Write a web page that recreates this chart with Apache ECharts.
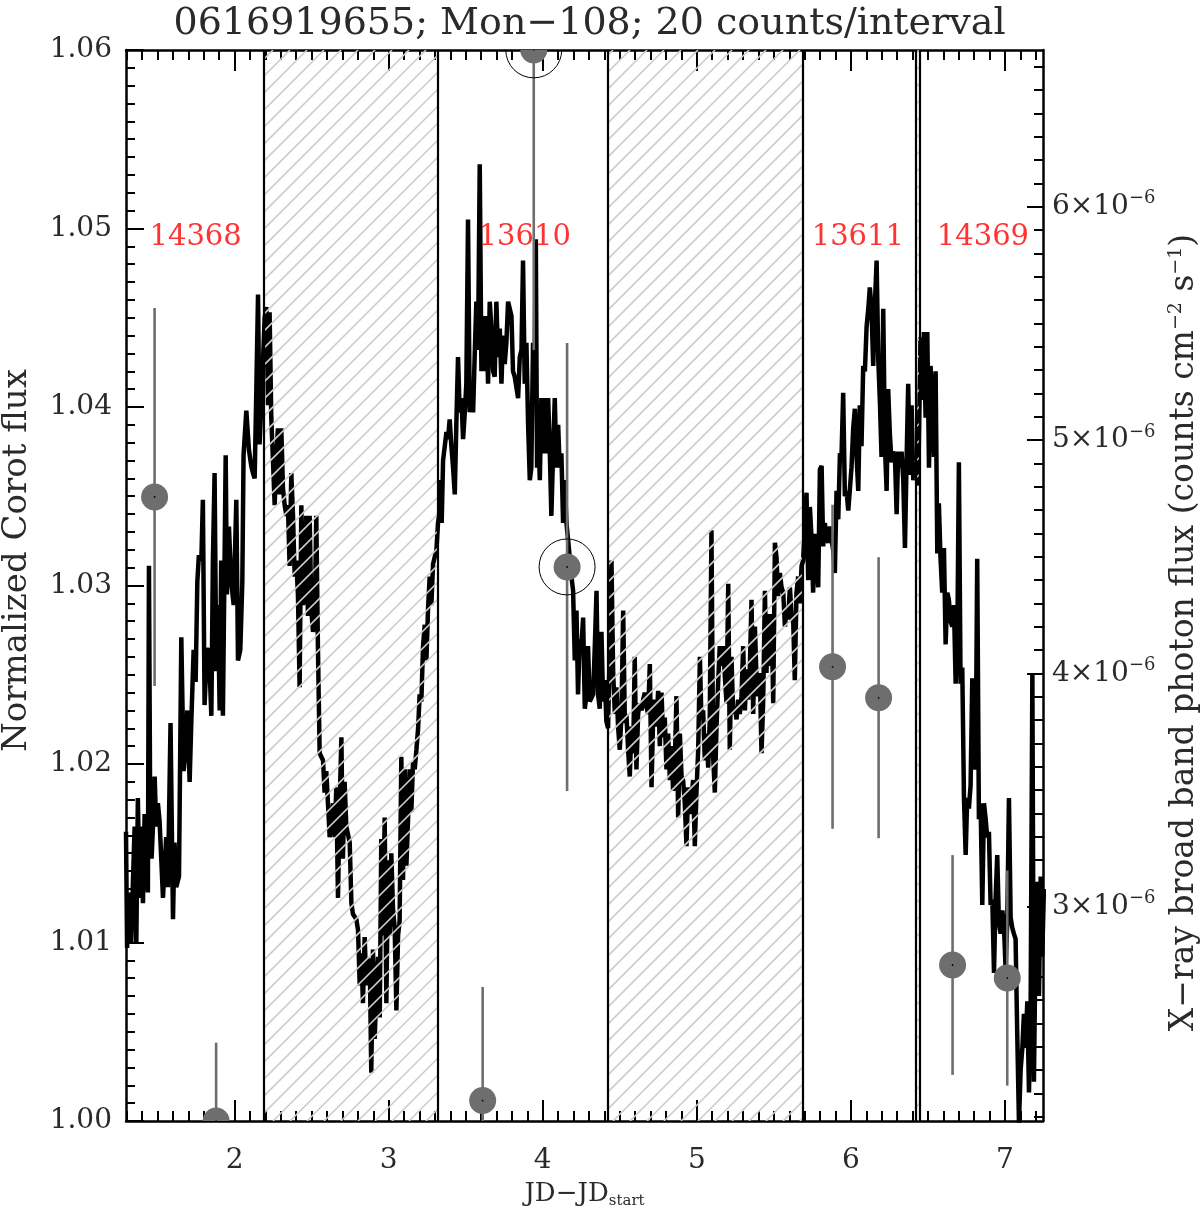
<!DOCTYPE html>
<html><head><meta charset="utf-8">
<script src="https://cdn.jsdelivr.net/npm/echarts@6/dist/echarts.min.js"></script>
<style>html,body{margin:0;padding:0;background:#fff}#c{width:1200px;height:1210px}</style>
</head><body><div id="c"></div><script>
// ---------------- data ----------------
const chartTitle = '0616919655; Mon\u2212108; 20 counts/interval';
const X_MIN = 1.295, X_MAX = 7.247;
const LEFT_MIN = 1.00, LEFT_MAX = 1.06, LEFT_STEP = 0.01;
const XRAY_MIN = 2.0814, XRAY_MAX = 6.6714;          // units of 1e-6
const xTickValues = [2, 3, 4, 5, 6, 7];
const xrayTickValues = [3, 4, 5, 6];

// CoRoT light curve [JD-JDstart, normalized flux], one array per stretch
const corotPart1 = [[1.295,1.0162],[1.302,1.0097],[1.314,1.0128],[1.329,1.0100],[1.340,1.0134],[1.351,1.0165],[1.362,1.0100],[1.372,1.0181],[1.383,1.0125],[1.394,1.0165],[1.405,1.0122],[1.416,1.0172],[1.426,1.0172],[1.437,1.0128],[1.444,1.0311],[1.452,1.0172],[1.461,1.0147],[1.470,1.0165],[1.481,1.0193],[1.491,1.0165],[1.502,1.0178],[1.513,1.0168],[1.535,1.0125],[1.556,1.0159],[1.567,1.0131],[1.584,1.0223],[1.600,1.0113],[1.610,1.0156],[1.621,1.0131],[1.639,1.0137],[1.654,1.0271],[1.669,1.0196],[1.682,1.0209],[1.693,1.0230],[1.708,1.0190],[1.719,1.0224],[1.734,1.0264],[1.747,1.0246],[1.758,1.0302],[1.768,1.0317],[1.784,1.0314],[1.794,1.0348],[1.805,1.0233],[1.820,1.0264],[1.833,1.0264],[1.849,1.0227],[1.859,1.0314],[1.870,1.0363],[1.881,1.0252],[1.892,1.0289],[1.903,1.0230],[1.913,1.0314],[1.924,1.0227],[1.942,1.0373],[1.950,1.0295],[1.963,1.0333],[1.978,1.0302],[1.994,1.0289],[2.011,1.0348],[2.022,1.0258],[2.037,1.0264],[2.050,1.0302],[2.058,1.0373],[2.076,1.0398],[2.093,1.0376],[2.108,1.0367],[2.119,1.0363],[2.130,1.0360],[2.141,1.0410],[2.152,1.0463],[2.162,1.0379],[2.173,1.0401],[2.184,1.0425]];
const corotPart2 = [[2.195,1.0450],[2.206,1.0456],[2.217,1.0401],[2.227,1.0453],[2.238,1.0394],[2.249,1.0370],[2.260,1.0345],[2.271,1.0373],[2.281,1.0388],[2.292,1.0351],[2.303,1.0388],[2.314,1.0354],[2.325,1.0345],[2.336,1.0339],[2.346,1.0345],[2.357,1.0311],[2.368,1.0363],[2.379,1.0339],[2.390,1.0305],[2.400,1.0314],[2.411,1.0295],[2.422,1.0243],[2.433,1.0345],[2.444,1.0289],[2.455,1.0302],[2.465,1.0339],[2.476,1.0283],[2.487,1.0339],[2.498,1.0286],[2.509,1.0274],[2.520,1.0283],[2.530,1.0339],[2.541,1.0264],[2.552,1.0206],[2.563,1.0206],[2.574,1.0202],[2.584,1.0184],[2.595,1.0196],[2.606,1.0178],[2.617,1.0159],[2.628,1.0168],[2.639,1.0178],[2.649,1.0159],[2.660,1.0187],[2.671,1.0125],[2.682,1.0178],[2.693,1.0215],[2.703,1.0147],[2.714,1.0190],[2.725,1.0165],[2.747,1.0156],[2.758,1.0122],[2.768,1.0116],[2.790,1.0113],[2.801,1.0107],[2.812,1.0076],[2.823,1.0094],[2.833,1.0066],[2.844,1.0103],[2.855,1.0076],[2.866,1.0088],[2.877,1.0091],[2.887,1.0027],[2.898,1.0096],[2.909,1.0046],[2.920,1.0073],[2.931,1.0092],[2.942,1.0058],[2.952,1.0158],[2.963,1.0104],[2.974,1.0170],[2.985,1.0066],[2.996,1.0146],[3.007,1.0104],[3.017,1.0150],[3.028,1.0119],[3.039,1.0108],[3.050,1.0062],[3.061,1.0104],[3.071,1.0112],[3.082,1.0204],[3.093,1.0135],[3.104,1.0197],[3.115,1.0143],[3.126,1.0170],[3.136,1.0197],[3.147,1.0173],[3.158,1.0201],[3.169,1.0197],[3.180,1.0208],[3.191,1.0220],[3.201,1.0239],[3.212,1.0235],[3.223,1.0266],[3.234,1.0278],[3.245,1.0258],[3.255,1.0286],[3.266,1.0305],[3.277,1.0289],[3.288,1.0312],[3.299,1.0316],[3.310,1.0320],[3.320,1.0335]];
const corotPart3 = [[3.327,1.0339],[3.336,1.0359],[3.344,1.0335],[3.353,1.0370],[3.364,1.0378],[3.375,1.0386],[3.385,1.0382],[3.396,1.0393],[3.407,1.0378],[3.418,1.0366],[3.429,1.0351],[3.439,1.0390],[3.450,1.0428],[3.461,1.0397],[3.472,1.0405],[3.483,1.0382],[3.494,1.0397],[3.504,1.0413],[3.515,1.0505],[3.526,1.0397],[3.537,1.0413],[3.548,1.0397],[3.558,1.0428],[3.569,1.0459],[3.580,1.0432],[3.591,1.0536],[3.602,1.0420],[3.613,1.0451],[3.623,1.0420],[3.634,1.0451],[3.645,1.0413],[3.656,1.0459],[3.667,1.0444],[3.678,1.0420],[3.688,1.0417],[3.699,1.0459],[3.710,1.0428],[3.721,1.0444],[3.732,1.0413],[3.742,1.0440],[3.753,1.0424],[3.764,1.0436],[3.775,1.0459],[3.786,1.0455],[3.797,1.0451],[3.807,1.0420],[3.818,1.0417],[3.829,1.0417],[3.840,1.0405],[3.851,1.0428],[3.862,1.0432],[3.872,1.0482],[3.883,1.0413],[3.894,1.0436],[3.905,1.0390],[3.916,1.0359],[3.926,1.0366],[3.937,1.0436],[3.948,1.0428],[3.955,1.0494],[3.963,1.0366],[3.970,1.0390],[3.981,1.0359],[3.991,1.0405],[4.002,1.0374],[4.013,1.0405],[4.024,1.0374],[4.035,1.0405],[4.046,1.0374],[4.056,1.0339],[4.067,1.0374],[4.078,1.0405],[4.089,1.0366],[4.100,1.0390],[4.110,1.0366],[4.121,1.0374],[4.132,1.0335],[4.143,1.0359],[4.154,1.0335],[4.165,1.0335],[4.175,1.0316],[4.186,1.0305],[4.197,1.0297],[4.208,1.0258],[4.219,1.0286],[4.229,1.0239],[4.240,1.0270],[4.251,1.0266],[4.262,1.0282],[4.273,1.0231],[4.284,1.0239],[4.294,1.0266],[4.305,1.0235],[4.316,1.0235],[4.327,1.0239],[4.338,1.0266],[4.349,1.0297],[4.359,1.0239],[4.370,1.0231],[4.381,1.0274],[4.392,1.0235],[4.403,1.0247],[4.413,1.0224],[4.424,1.0220]];
const corotPart4 = [[4.446,1.0314],[4.457,1.0251],[4.468,1.0228],[4.478,1.0243],[4.489,1.0221],[4.500,1.0208],[4.511,1.0228],[4.522,1.0286],[4.533,1.0223],[4.543,1.0228],[4.554,1.0208],[4.565,1.0193],[4.576,1.0221],[4.587,1.0206],[4.597,1.0260],[4.608,1.0197],[4.619,1.0228],[4.630,1.0234],[4.641,1.0230],[4.652,1.0236],[4.662,1.0240],[4.673,1.0232],[4.684,1.0228],[4.695,1.0256],[4.706,1.0187],[4.717,1.0228],[4.727,1.0236],[4.738,1.0221],[4.749,1.0241],[4.760,1.0210],[4.771,1.0240],[4.781,1.0215],[4.792,1.0226],[4.803,1.0197],[4.814,1.0217],[4.825,1.0191],[4.836,1.0210],[4.846,1.0185],[4.857,1.0200],[4.868,1.0238],[4.879,1.0170],[4.890,1.0217],[4.901,1.0193],[4.911,1.0191],[4.922,1.0178],[4.933,1.0154],[4.944,1.0187],[4.955,1.0172],[4.965,1.0180],[4.976,1.0191],[4.987,1.0154],[4.998,1.0185],[5.009,1.0208],[5.020,1.0260],[5.030,1.0225],[5.041,1.0230],[5.052,1.0202],[5.063,1.0217],[5.074,1.0198],[5.084,1.0225],[5.095,1.0331],[5.106,1.0204],[5.117,1.0184],[5.128,1.0221],[5.139,1.0247],[5.149,1.0266],[5.160,1.0255],[5.171,1.0266],[5.182,1.0249],[5.193,1.0234],[5.204,1.0301],[5.214,1.0208],[5.225,1.0260],[5.236,1.0228],[5.247,1.0232],[5.258,1.0225],[5.268,1.0236],[5.279,1.0228],[5.290,1.0238],[5.301,1.0266],[5.312,1.0230],[5.323,1.0253],[5.333,1.0236],[5.344,1.0253],[5.355,1.0292],[5.366,1.0228],[5.377,1.0277],[5.388,1.0247],[5.398,1.0238],[5.409,1.0251],[5.420,1.0206],[5.431,1.0236],[5.442,1.0297],[5.452,1.0251],[5.463,1.0284],[5.474,1.0255],[5.485,1.0284],[5.496,1.0234],[5.507,1.0324],[5.517,1.0316],[5.528,1.0294],[5.539,1.0307],[5.550,1.0299],[5.561,1.0296],[5.572,1.0277],[5.582,1.0286],[5.593,1.0281],[5.604,1.0299],[5.615,1.0284],[5.626,1.0279],[5.636,1.0247],[5.647,1.0296],[5.658,1.0305],[5.669,1.0290],[5.680,1.0311],[5.690,1.0314]];
const corotPart5 = [[5.701,1.0314],[5.712,1.0352],[5.723,1.0303],[5.734,1.0344],[5.745,1.0326],[5.755,1.0296],[5.766,1.0329],[5.777,1.0329],[5.788,1.0299],[5.799,1.0365],[5.810,1.0367],[5.820,1.0322],[5.831,1.0335],[5.842,1.0326],[5.853,1.0324],[5.864,1.0333],[5.874,1.0326],[5.885,1.0320],[5.896,1.0307],[5.907,1.0353],[5.918,1.0337],[5.929,1.0374],[5.939,1.0372],[5.950,1.0408],[5.961,1.0350],[5.972,1.0353],[5.983,1.0342],[5.994,1.0343],[6.004,1.0366],[6.015,1.0388],[6.026,1.0399],[6.037,1.0372],[6.048,1.0353],[6.058,1.0401],[6.069,1.0378],[6.080,1.0423],[6.091,1.0420],[6.102,1.0445],[6.113,1.0455],[6.123,1.0467],[6.134,1.0455],[6.145,1.0423],[6.156,1.0458],[6.167,1.0482],[6.178,1.0426],[6.188,1.0404],[6.199,1.0372],[6.210,1.0455],[6.221,1.0378],[6.232,1.0353],[6.242,1.0410],[6.253,1.0385],[6.264,1.0369],[6.275,1.0375],[6.286,1.0372],[6.297,1.0340],[6.307,1.0375],[6.318,1.0366],[6.329,1.0375],[6.340,1.0359],[6.351,1.0321],[6.362,1.0372],[6.372,1.0413],[6.383,1.0362],[6.394,1.0401],[6.405,1.0359],[6.416,1.0366],[6.426,1.0372],[6.437,1.0356]];
const corotPart6 = [[6.452,1.0439],[6.463,1.0404],[6.474,1.0442],[6.485,1.0394],[6.496,1.0442],[6.507,1.0366],[6.517,1.0423],[6.528,1.0404],[6.539,1.0372],[6.550,1.0420],[6.561,1.0318],[6.571,1.0346],[6.582,1.0315],[6.593,1.0296],[6.604,1.0321],[6.615,1.0267],[6.626,1.0296],[6.636,1.0292],[6.647,1.0280],[6.658,1.0277],[6.669,1.0289],[6.680,1.0245],[6.691,1.0270],[6.701,1.0369],[6.712,1.0245],[6.723,1.0254],[6.734,1.0181],[6.745,1.0149],[6.755,1.0181],[6.766,1.0175],[6.777,1.0188],[6.788,1.0248],[6.799,1.0200],[6.810,1.0197],[6.820,1.0315],[6.831,1.0169],[6.842,1.0178],[6.853,1.0121],[6.864,1.0178],[6.875,1.0169],[6.885,1.0159],[6.896,1.0162],[6.907,1.0121],[6.918,1.0124],[6.929,1.0083],[6.939,1.0124],[6.950,1.0149],[6.961,1.0111],[6.972,1.0105],[6.983,1.0118],[6.994,1.0108],[7.004,1.0086],[7.015,1.0111],[7.026,1.0181],[7.037,1.0114],[7.048,1.0108],[7.058,1.0105],[7.069,1.0102],[7.080,1.0048],[7.091,0.9999],[7.102,1.0029],[7.113,1.0041],[7.123,1.0060],[7.134,1.0041],[7.145,1.0067],[7.156,1.0016],[7.167,1.0067],[7.178,1.0251],[7.188,1.0022],[7.199,1.0102],[7.210,1.0134],[7.221,1.0070],[7.232,1.0137],[7.242,1.0092],[7.253,1.0130]];

// Chandra X-ray broad band photon flux (units of 1e-6 counts cm^-2 s^-1)
const xrayTime    = [1.4805, 1.880, 3.610, 3.9416, 4.158, 5.881, 6.180, 6.660, 7.015];
const xrayFlux    = [4.756, 2.081, 2.169, 6.672, 4.456, 4.028, 3.895, 2.750, 2.694];
const xrayErr     = [0.810, 0.336, 0.487, 1.286, 0.960, 0.694, 0.602, 0.471, 0.461];
const xrayFlagged = [0, 0, 0, 1, 1, 0, 0, 0, 0];

// gaps between Chandra observations (hatched)
const gapStart = [2.195, 4.424, 6.416];
const gapEnd   = [3.320, 5.690, 6.452];

// observation IDs
const obsIds = ['14368', '13610', '13611', '14369'];
const obsLabelTime = [1.747, 3.883, 6.045, 6.857];
const obsLabelFlux = 1.0495;

// ---------------- build ----------------
const FONT = 'DejaVu Serif';
const TXT = '#2a2a2a';
const corot = [].concat(corotPart1, corotPart2, corotPart3, corotPart4, corotPart5, corotPart6);
const boundaries = gapStart.concat(gapEnd);

function minorTicks(lo, hi, step, majors) {
  const out = [];
  for (let k = Math.ceil(lo / step); k * step <= hi + 1e-9; k++) {
    const v = Math.round(k * step * 1000) / 1000;
    if (majors.indexOf(v) < 0) out.push(v);
  }
  return out;
}
const xMinor = minorTicks(X_MIN, X_MAX, 0.1, xTickValues);
const xrayMinor = minorTicks(XRAY_MIN, XRAY_MAX, 0.1, xrayTickValues);

const tickStyle = { color: '#000', width: 2 };
const lineAxis = { show: true, onZero: false, lineStyle: { color: '#000', width: 2.5 } };
const noLine = { show: false, onZero: false };

function xAx(pos, values, len, withLine, withLabel) {
  const a = {
    type: 'value', position: pos, min: X_MIN, max: X_MAX,
    splitLine: { show: false },
    axisLine: withLine ? lineAxis : noLine,
    axisTick: { show: true, inside: true, length: len, customValues: values, lineStyle: tickStyle },
    axisLabel: { show: false }
  };
  if (withLabel) {
    a.axisLabel = { show: true, customValues: values, formatter: v => String(v), margin: 26,
      fontFamily: FONT, fontSize: 28, color: TXT };
    a.name = '{m|JD\u2212JD}{s|start}';
    a.nameLocation = 'middle';
    a.nameGap = 58;
    a.nameTextStyle = { fontFamily: FONT, color: TXT,
      rich: { m: { fontFamily: FONT, fontSize: 26, color: TXT, lineHeight: 30 },
              s: { fontFamily: FONT, fontSize: 15, color: TXT, lineHeight: 14, verticalAlign: 'bottom' } } };
  }
  return a;
}

function renderHatch(params, api) {
  const cs = params.coordSys;
  const xa = api.coord([api.value(0), api.value(2)])[0];
  const xb = api.coord([api.value(1), api.value(2)])[0];
  const ya = cs.y, yb = cs.y + cs.height;
  const s = 17;
  const children = [];
  for (let c = Math.ceil((xa + ya) / s) * s; c <= xb + yb; c += s) {
    const x1 = Math.max(xa, c - yb), x2 = Math.min(xb, c - ya);
    if (x2 > x1) children.push({ type: 'line', shape: { x1: x1, y1: c - x1, x2: x2, y2: c - x2 },
      style: { stroke: '#cdcdcd', lineWidth: 1.6 } });
  }
  return { type: 'group', children: children };
}

function renderXray(params, api) {
  const x = api.value(0), y = api.value(1), e = api.value(2), flag = api.value(3);
  const c = api.coord([x, y]), t = api.coord([x, y + e]), b = api.coord([x, y - e]);
  const g = '#6e6e6e';
  const children = [
    { type: 'line', shape: { x1: c[0], y1: t[1], x2: c[0], y2: b[1] }, style: { stroke: g, lineWidth: 2.6 } },
    { type: 'circle', shape: { cx: c[0], cy: c[1], r: 13.5 }, style: { fill: g } },
    { type: 'circle', shape: { cx: c[0], cy: c[1], r: 0.9 }, style: { fill: '#000' } }
  ];
  if (flag) children.push({ type: 'circle', shape: { cx: c[0], cy: c[1], r: 28 },
    style: { fill: 'none', stroke: '#000', lineWidth: 1 } });
  return { type: 'group', children: children };
}

const chart = echarts.init(document.getElementById('c'), null, { renderer: 'canvas' });
chart.setOption({
  animation: false,
  backgroundColor: '#fff',
  title: { text: chartTitle, left: 584.5, textAlign: 'center', top: 0,
    textStyle: { fontFamily: FONT, fontSize: 38, fontWeight: 'normal', color: TXT } },
  grid: { left: 126, right: 157, top: 50, bottom: 89, containLabel: false, outerBoundsMode: 'none' },
  xAxis: [
    xAx('bottom', xTickValues, 21, true, true),
    xAx('bottom', xMinor, 10, false, false),
    xAx('top', xTickValues, 21, true, false),
    xAx('top', xMinor, 10, false, false)
  ],
  yAxis: [
    { type: 'value', position: 'left', min: LEFT_MIN, max: LEFT_MAX, interval: LEFT_STEP,
      splitLine: { show: false }, axisLine: lineAxis,
      axisTick: { show: true, inside: true, length: 18, lineStyle: tickStyle },
      minorTick: { show: true, splitNumber: 10, length: 9, lineStyle: tickStyle },
      axisLabel: { formatter: v => v.toFixed(2), margin: 14, fontFamily: FONT, fontSize: 28, color: TXT },
      name: 'Normalized Corot flux', nameLocation: 'middle', nameGap: 92,
      nameTextStyle: { fontFamily: FONT, fontSize: 34, color: TXT, padding: [0, 0, 0, 50] } },
    { type: 'value', position: 'right', min: XRAY_MIN, max: XRAY_MAX,
      splitLine: { show: false }, axisLine: lineAxis,
      axisTick: { show: true, inside: true, length: 16, customValues: xrayTickValues, lineStyle: tickStyle },
      axisLabel: { show: true, customValues: xrayTickValues, margin: 9,
        formatter: v => '{b|' + v + '\u00d710}{s|\u22126}',
        rich: { b: { fontFamily: FONT, fontSize: 28, color: TXT, lineHeight: 34 },
                s: { fontFamily: FONT, fontSize: 18, color: TXT, lineHeight: 18, verticalAlign: 'top' } } },
      name: 'X\u2212ray broad band photon flux (counts cm{s|\u22122} s{s|\u22121})',
      nameLocation: 'middle', nameGap: 115,
      nameTextStyle: { fontFamily: FONT, fontSize: 33, color: TXT, lineHeight: 36, padding: [0, 94, 0, 0],
        rich: { s: { fontFamily: FONT, fontSize: 19, color: TXT, lineHeight: 20, verticalAlign: 'top' } } } },
    { type: 'value', position: 'right', min: XRAY_MIN, max: XRAY_MAX,
      splitLine: { show: false }, axisLine: noLine, axisLabel: { show: false },
      axisTick: { show: true, inside: true, length: 9, customValues: xrayMinor, lineStyle: tickStyle } }
  ],
  series: [
    { type: 'line', name: 'CoRoT', xAxisIndex: 0, yAxisIndex: 0, z: 2, data: corot,
      showSymbol: false, symbol: 'none', clip: true, silent: true,
      lineStyle: { color: '#000', width: 4.5 },
      markLine: { silent: true, symbol: ['none', 'none'], label: { show: false },
        lineStyle: { color: '#000', width: 2.2, type: 'solid' },
        data: boundaries.map(v => ({ xAxis: v })) } },
    { type: 'custom', name: 'gaps', xAxisIndex: 0, yAxisIndex: 0, z: 3, clip: true, silent: true,
      data: gapStart.map((s, i) => [s, gapEnd[i], LEFT_MAX]), encode: { x: [0, 1], y: 2 },
      renderItem: renderHatch },
    { type: 'custom', name: 'X-ray', xAxisIndex: 0, yAxisIndex: 1, z: 4, clip: true, silent: true,
      data: xrayTime.map((t, i) => [t, xrayFlux[i], xrayErr[i], xrayFlagged[i]]), encode: { x: 0, y: 1 },
      renderItem: renderXray },
    { type: 'scatter', name: 'ObsID', xAxisIndex: 0, yAxisIndex: 0, z: 5, silent: true,
      symbolSize: 1, itemStyle: { color: 'rgba(0,0,0,0)' },
      data: obsLabelTime.map((t, i) => [t, obsLabelFlux, obsIds[i]]),
      label: { show: true, position: 'inside', formatter: p => p.value[2],
        fontFamily: FONT, fontSize: 29, color: '#ff0000' } }
  ]
});
</script></body></html>
